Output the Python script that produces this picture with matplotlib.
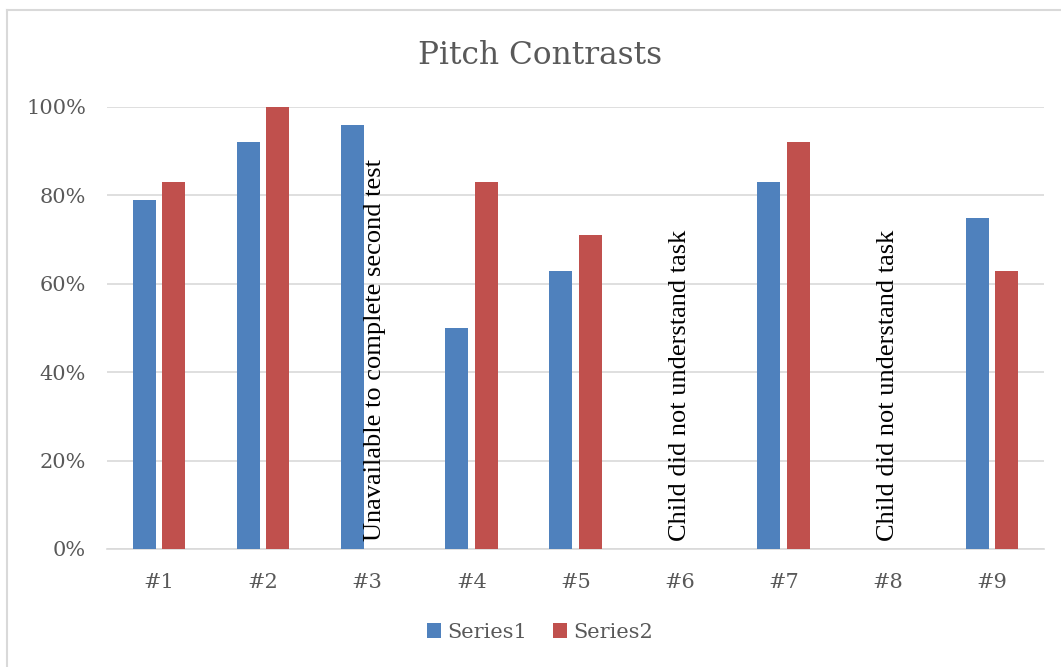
import numpy as np
import matplotlib.pyplot as plt
from matplotlib.lines import Line2D

categories = ['#1', '#2', '#3', '#4', '#5', '#6', '#7', '#8', '#9']
series1 = [0.79, 0.92, 0.96, 0.50, 0.63, np.nan, 0.83, np.nan, 0.75]
series2 = [0.83, 1.00, np.nan, 0.83, 0.71, np.nan, 0.92, np.nan, 0.63]
notes = {2: 'Unavailable to complete second test',
         5: 'Child did not understand task',
         7: 'Child did not understand task'}

blue = '#4f81bd'
red = '#c0504d'
grey = '#595959'

fig = plt.figure(figsize=(10.61, 6.67), dpi=100)
ax = fig.add_axes([107 / 1061, 1 - 549 / 667, 937 / 1061, 442 / 667])

x = np.arange(len(categories))
w = 0.22
ax.bar(x - 0.142, series1, w, color=blue, label='Series1', zorder=3)
ax.bar(x + 0.142, series2, w, color=red, label='Series2', zorder=3)

# notes for the missing results
for i, txt in notes.items():
    dx = 0.07 if i == 2 else 0.0
    ax.text(i + dx, 0.018, txt, rotation=90, ha='center', va='bottom',
            fontsize=19, family='Liberation Serif', color='black', zorder=4)

ax.set_xlim(-0.5, len(categories) - 0.5)
ax.set_ylim(0, 1.0)
ax.set_yticks([0, 0.2, 0.4, 0.6, 0.8, 1.0])
ax.set_yticklabels(['0%', '20%', '40%', '60%', '80%', '100%'])
ax.set_xticks(x)
ax.set_xticklabels(categories)
ax.grid(axis='y', color='#d9d9d9', linewidth=1.2, zorder=0)
for s in ['top', 'right', 'left']:
    ax.spines[s].set_visible(False)
ax.spines['bottom'].set_color('#d9d9d9')
ax.spines['bottom'].set_linewidth(1.2)
ax.tick_params(length=0, labelsize=15, labelcolor=grey)
ax.tick_params(axis='y', pad=15)
ax.tick_params(axis='x', pad=17)
for lab in ax.get_xticklabels() + ax.get_yticklabels():
    lab.set_family('DejaVu Serif')

fig.text(0.509, 1 - 55 / 667, 'Pitch Contrasts', ha='center', va='center',
         fontsize=22.5, family='DejaVu Serif', color=grey)

leg = fig.legend(loc='center', bbox_to_anchor=(0.509, 1 - 632 / 667), ncol=2,
                 frameon=False, handlelength=0.7, handleheight=0.7,
                 handletextpad=0.3, columnspacing=1.2,
                 prop={'family': 'DejaVu Serif', 'size': 15})
for t in leg.get_texts():
    t.set_color(grey)

# chart frame (only left and top visible in the crop)
fig.add_artist(Line2D([7 / 1061, 7 / 1061], [0, 1 - 10 / 667], color='#d9d9d9', lw=1.5))
fig.add_artist(Line2D([7 / 1061, 1], [1 - 10 / 667, 1 - 10 / 667], color='#d9d9d9', lw=1.5))

fig.savefig('out.png', dpi=100)
